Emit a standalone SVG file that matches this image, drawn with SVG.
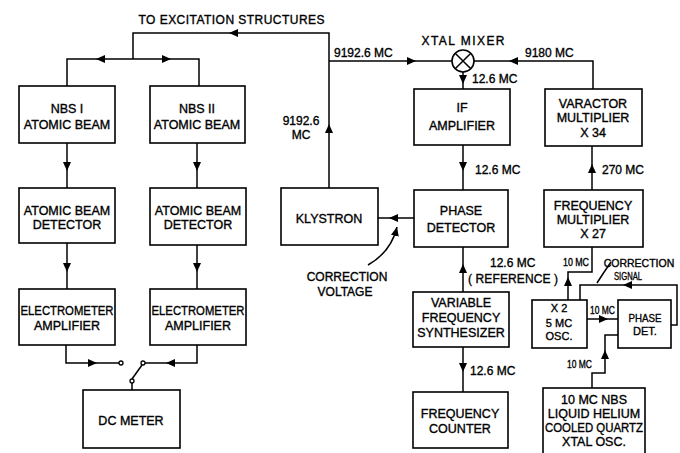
<svg xmlns="http://www.w3.org/2000/svg" xmlns:xlink="http://www.w3.org/1999/xlink" width="680" height="453" viewBox="0 0 680 453">
<style>
.box{fill:#fff;stroke:#000;stroke-width:1.6}
.ln{fill:none;stroke:#000;stroke-width:1.5}
text{font-family:"Liberation Sans",Arial,sans-serif;fill:#000;stroke:#000;stroke-width:0.35}
.t{font-size:12.5px;text-anchor:middle}
.l{font-size:12px}
.s{font-size:10.5px}
.b{font-size:11px;text-anchor:middle}
.c{fill:#fff;stroke:#000;stroke-width:1.3}
</style>
<defs>
<path id="ah" d="M4,0 L-5,-4 L-5,4 Z" fill="#000"/>
<marker id="me" viewBox="-5 -4 9 8" refX="4" refY="0" markerWidth="9" markerHeight="8" markerUnits="userSpaceOnUse" orient="auto"><path d="M4,0 L-5,-4 L-5,4 Z" fill="#000"/></marker>
</defs>
<rect width="680" height="453" fill="#fff"/>

<text class="l" x="231.5" y="24" text-anchor="middle" font-size="13" textLength="186" lengthAdjust="spacing">TO EXCITATION STRUCTURES</text>

<g id="connectors">
<path class="ln" d="M329,188 V33 H133 V59"/>
<path class="ln" d="M67,86 V59 H199 V86"/>
<path class="ln" d="M329,61 H452"/>
<path class="ln" d="M474,61 H593 V89"/>
<path class="ln" d="M463,72 V89"/>
<path class="ln" d="M463,145 V190"/>
<path class="ln" d="M592,190 V146"/>
<path class="ln" d="M414,218 H378"/>
<path class="ln" d="M463,292 V247"/>
<path class="ln" d="M592,247 V272 H568 V300"/>
<path class="ln" d="M587,319 H618"/>
<path class="ln" d="M671,325 H677 V285 H580 V300"/>
<path class="ln" d="M592,388 V373 H605 V335 H618"/>
<path class="ln" d="M463,347 V392"/>
<path class="ln" d="M67,143 V188"/>
<path class="ln" d="M197,143 V188"/>
<path class="ln" d="M67,243 V289"/>
<path class="ln" d="M197,245 V289"/>
<path class="ln" d="M66,345 V363 H119"/>
<path class="ln" d="M197,345 V363 H145"/>
<path class="ln" d="M132,379 L142,365"/>
<path class="ln" d="M132,383 V390"/>
<circle class="c" cx="121" cy="363" r="2"/>
<circle class="c" cx="143" cy="363" r="2"/>
<circle class="c" cx="132" cy="381" r="2"/>
<path class="ln" d="M368,265 Q391,252 397,227" marker-end="url(#me)"/>
<path class="ln" d="M597,283 Q604,272 611,262"/>
<use href="#ah" transform="translate(329,128) rotate(-90)"/>
<use href="#ah" transform="translate(233,33) rotate(180)"/>
<use href="#ah" transform="translate(100,59) rotate(180)"/>
<use href="#ah" transform="translate(167,59)"/>
<use href="#ah" transform="translate(412,61)"/>
<use href="#ah" transform="translate(513,61) rotate(180)"/>
<use href="#ah" transform="translate(463,80) rotate(90)"/>
<use href="#ah" transform="translate(463,167) rotate(90)"/>
<use href="#ah" transform="translate(592,168) rotate(-90)"/>
<use href="#ah" transform="translate(393,218) rotate(180)"/>
<use href="#ah" transform="translate(463,268) rotate(-90)"/>
<use href="#ah" transform="translate(568,281) rotate(-90)"/>
<use href="#ah" transform="translate(604,319)"/>
<use href="#ah" transform="translate(627,285) rotate(180)"/>
<use href="#ah" transform="translate(605,354) rotate(-90)"/>
<use href="#ah" transform="translate(463,368) rotate(90)"/>
<use href="#ah" transform="translate(67,167) rotate(90)"/>
<use href="#ah" transform="translate(197,167) rotate(90)"/>
<use href="#ah" transform="translate(67,268) rotate(90)"/>
<use href="#ah" transform="translate(197,268) rotate(90)"/>
<use href="#ah" transform="translate(93,363)"/>
<use href="#ah" transform="translate(170,363) rotate(180)"/>
</g>

<g id="labels">
<text class="l" x="334" y="57">9192.6 MC</text>
<text class="l" x="301" y="125" text-anchor="middle">9192.6</text>
<text class="l" x="301" y="139" text-anchor="middle">MC</text>
<text class="l" x="525" y="57">9180 MC</text>
<text class="l" x="472" y="83">12.6 MC</text>
<text class="l" x="475" y="174">12.6 MC</text>
<text class="l" x="602" y="174">270 MC</text>
<text class="l" x="347" y="281" text-anchor="middle">CORRECTION</text>
<text class="l" x="345" y="296" text-anchor="middle">VOLTAGE</text>
<text class="l" x="490" y="267">12.6 MC</text>
<text class="l" x="468" y="283" textLength="90" lengthAdjust="spacing">( REFERENCE )</text>
<text class="s" x="563" y="266" textLength="26" lengthAdjust="spacingAndGlyphs">10 MC</text>
<text class="s" x="639" y="267" text-anchor="middle" font-size="9">CORRECTION</text>
<text class="s" x="614" y="280" textLength="28" lengthAdjust="spacingAndGlyphs">SIGNAL</text>
<text class="s" x="590" y="314" textLength="25" lengthAdjust="spacingAndGlyphs">10 MC</text>
<text class="s" x="567" y="368" textLength="25" lengthAdjust="spacingAndGlyphs">10 MC</text>
<text class="l" x="470" y="375">12.6 MC</text>
</g>

<g id="mixer">
<circle cx="463" cy="61" r="11" fill="#fff" stroke="#000" stroke-width="1.6"/>
<path class="ln" d="M455.2,53.2 L470.8,68.8 M470.8,53.2 L455.2,68.8"/>
<text class="l" x="463" y="45" text-anchor="middle" textLength="83" lengthAdjust="spacing">XTAL MIXER</text>
</g>

<g id="nbs1">
<rect class="box" x="19" y="86" width="96" height="57"/>
<text class="t" x="67" y="113">NBS I</text>
<text class="t" x="67" y="129">ATOMIC BEAM</text>
</g>
<g id="nbs2">
<rect class="box" x="150" y="86" width="95" height="57"/>
<text class="t" x="197" y="113">NBS II</text>
<text class="t" x="197" y="129">ATOMIC BEAM</text>
</g>
<g id="det1">
<rect class="box" x="19" y="188" width="96" height="55"/>
<text class="t" x="67" y="215">ATOMIC BEAM</text>
<text class="t" x="67" y="229">DETECTOR</text>
</g>
<g id="det2">
<rect class="box" x="150" y="188" width="96" height="57"/>
<text class="t" x="198" y="215">ATOMIC BEAM</text>
<text class="t" x="198" y="229">DETECTOR</text>
</g>
<g id="elec1">
<rect class="box" x="19" y="289" width="96" height="56"/>
<text class="t" x="67" y="315" textLength="93" lengthAdjust="spacingAndGlyphs">ELECTROMETER</text>
<text class="t" x="67" y="330">AMPLIFIER</text>
</g>
<g id="elec2">
<rect class="box" x="150" y="289" width="96" height="56"/>
<text class="t" x="198" y="315" textLength="93" lengthAdjust="spacingAndGlyphs">ELECTROMETER</text>
<text class="t" x="198" y="330">AMPLIFIER</text>
</g>
<g id="dcmeter">
<rect class="box" x="83" y="390" width="97" height="58"/>
<text class="t" x="131" y="425">DC METER</text>
</g>
<g id="klystron">
<rect class="box" x="281" y="188" width="97" height="57"/>
<text class="t" x="329" y="223">KLYSTRON</text>
</g>
<g id="ifamp">
<rect class="box" x="414" y="89" width="96" height="56"/>
<text class="t" x="462" y="112">IF</text>
<text class="t" x="462" y="130">AMPLIFIER</text>
</g>
<g id="varactor">
<rect class="box" x="545" y="89" width="97" height="57"/>
<text class="t" x="593" y="108">VARACTOR</text>
<text class="t" x="593" y="122">MULTIPLIER</text>
<text class="t" x="593" y="137">X 34</text>
</g>
<g id="phasedet">
<rect class="box" x="414" y="190" width="94" height="57"/>
<text class="t" x="461" y="215">PHASE</text>
<text class="t" x="461" y="232">DETECTOR</text>
</g>
<g id="freqmult">
<rect class="box" x="544" y="190" width="99" height="57"/>
<text class="t" x="593" y="210">FREQUENCY</text>
<text class="t" x="593" y="224">MULTIPLIER</text>
<text class="t" x="593" y="238">X 27</text>
</g>
<g id="synth">
<rect class="box" x="413" y="292" width="96" height="55"/>
<text class="t" x="461" y="307">VARIABLE</text>
<text class="t" x="461" y="322">FREQUENCY</text>
<text class="t" x="461" y="337">SYNTHESIZER</text>
</g>
<g id="counter">
<rect class="box" x="413" y="392" width="95" height="56"/>
<text class="t" x="460" y="418">FREQUENCY</text>
<text class="t" x="460" y="433">COUNTER</text>
</g>
<g id="osc5">
<rect class="box" x="532" y="300" width="55" height="48"/>
<text class="b" x="559" y="312">X 2</text>
<text class="b" x="559" y="327">5  MC</text>
<text class="b" x="559" y="340">OSC.</text>
</g>
<g id="phasedet2">
<rect class="box" x="618" y="300" width="53" height="48"/>
<text class="b" x="645" y="322" textLength="33" lengthAdjust="spacingAndGlyphs">PHASE</text>
<text class="b" x="645" y="335">DET.</text>
</g>
<g id="quartz">
<rect class="box" x="543" y="388" width="102" height="70"/>
<text class="t" x="594" y="404">10 MC  NBS</text>
<text class="t" x="594" y="418">LIQUID HELIUM</text>
<text class="t" x="594" y="432" textLength="98" lengthAdjust="spacingAndGlyphs">COOLED QUARTZ</text>
<text class="t" x="594" y="446">XTAL  OSC.</text>
</g>
</svg>
